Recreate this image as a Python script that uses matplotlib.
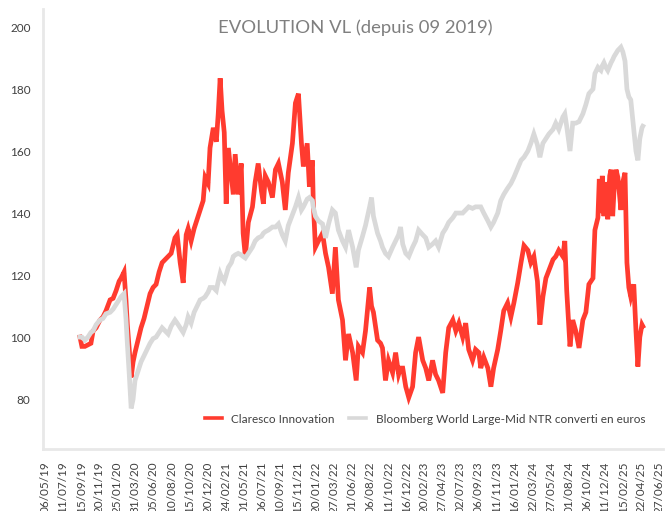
import matplotlib
matplotlib.use("Agg")
import matplotlib.pyplot as plt
import pandas as pd

plt.rcParams['font.family'] = ['Lato', 'DejaVu Sans']

title = "EVOLUTION VL (depuis 09 2019)"
series_names = ["Claresco Innovation", "Bloomberg World Large-Mid NTR converti en euros"]

dates = [
    "2019-09-11", "2019-09-18", "2019-09-29", "2019-10-10", "2019-10-21", "2019-10-29",
    "2019-11-09", "2019-11-23", "2019-12-04", "2019-12-15", "2019-12-30", "2020-01-10",
    "2020-01-21", "2020-02-01", "2020-02-08", "2020-02-19", "2020-02-26", "2020-03-02",
    "2020-03-09", "2020-03-16", "2020-03-23", "2020-03-30", "2020-04-10", "2020-04-21",
    "2020-05-02", "2020-05-13", "2020-05-24", "2020-06-04", "2020-06-15", "2020-06-26",
    "2020-07-07", "2020-07-18", "2020-07-29", "2020-08-09", "2020-08-23", "2020-08-31",
    "2020-09-11", "2020-09-22", "2020-10-03", "2020-10-10", "2020-10-21", "2020-11-01",
    "2020-11-12", "2020-11-23", "2020-12-04", "2020-12-11", "2020-12-22", "2020-12-29",
    "2021-01-10", "2021-01-21", "2021-01-28", "2021-02-04", "2021-02-11", "2021-02-19",
    "2021-02-26", "2021-03-06", "2021-03-17", "2021-03-24", "2021-03-31", "2021-04-11",
    "2021-04-22", "2021-04-29", "2021-05-07", "2021-05-18", "2021-06-02", "2021-06-12",
    "2021-06-23", "2021-07-05", "2021-07-12", "2021-07-19", "2021-07-30", "2021-08-14",
    "2021-08-25", "2021-09-05", "2021-09-19", "2021-09-30", "2021-10-11", "2021-10-26",
    "2021-11-06", "2021-11-17", "2021-11-28", "2021-12-05", "2021-12-19", "2021-12-27",
    "2022-01-07", "2022-01-10", "2022-01-18", "2022-01-29", "2022-02-13", "2022-02-24",
    "2022-03-07", "2022-03-21", "2022-04-01", "2022-04-12", "2022-04-27", "2022-05-08",
    "2022-05-19", "2022-06-03", "2022-06-16", "2022-06-24", "2022-07-09", "2022-07-20",
    "2022-08-04", "2022-08-11", "2022-08-18", "2022-09-02", "2022-09-13", "2022-09-20",
    "2022-10-01", "2022-10-12", "2022-10-27", "2022-11-07", "2022-11-18", "2022-11-25",
    "2022-12-03", "2022-12-14", "2022-12-25", "2023-01-08", "2023-01-19", "2023-01-30",
    "2023-02-14", "2023-02-25", "2023-03-08", "2023-03-22", "2023-04-02", "2023-04-13",
    "2023-04-28", "2023-05-09", "2023-05-20", "2023-06-04", "2023-06-15", "2023-06-26",
    "2023-07-10", "2023-07-21", "2023-08-01", "2023-08-15", "2023-08-26", "2023-09-07",
    "2023-09-14", "2023-09-25", "2023-10-10", "2023-10-21", "2023-10-31", "2023-11-15",
    "2023-11-26", "2023-12-07", "2023-12-21", "2024-01-02", "2024-01-13", "2024-01-27",
    "2024-02-08", "2024-02-19", "2024-03-04", "2024-03-15", "2024-03-26", "2024-04-08",
    "2024-04-17", "2024-04-28", "2024-05-09", "2024-05-20", "2024-06-04", "2024-06-14",
    "2024-06-25", "2024-07-10", "2024-07-17", "2024-07-24", "2024-08-05", "2024-08-15",
    "2024-08-26", "2024-09-07", "2024-09-21", "2024-10-02", "2024-10-13", "2024-10-28",
    "2024-11-04", "2024-11-15", "2024-11-20", "2024-11-26", "2024-12-01", "2024-12-07",
    "2024-12-14", "2024-12-21", "2024-12-28", "2025-01-02", "2025-01-08", "2025-01-13",
    "2025-01-20", "2025-01-27", "2025-02-07", "2025-02-14", "2025-02-22", "2025-03-01",
    "2025-03-08", "2025-03-15", "2025-03-26", "2025-04-03", "2025-04-10", "2025-04-17",
    "2025-04-25", "2025-04-28",
]

claresco = [
    100, 97, 97, 97.5, 98, 102,
    103, 105.5, 106.5, 108.5, 112, 112.5,
    115, 118, 119, 121, 112, 104,
    96, 87, 92, 95, 99, 103,
    106, 110, 114, 116, 117, 121,
    124, 125, 126, 127, 132, 133,
    124, 117.5, 133, 135, 131, 135,
    138, 141, 144, 151.5, 149.5, 161,
    167.5, 163, 172, 183.5, 173, 166,
    143, 161, 152, 146, 159, 146,
    156, 133.5, 126, 137, 142, 150,
    156, 147, 143, 152, 150, 145,
    154, 156, 150, 141, 153, 162.5,
    175.5, 178.5, 162.5, 155, 162.5, 148.5,
    157, 144, 129, 131, 133.5, 127,
    122.5, 114, 129, 112, 105.5, 92.5,
    101, 95, 86, 97, 95, 102,
    116, 110, 108, 99, 98, 96.5,
    86, 92.5, 88.5, 95, 88, 90,
    90, 84, 80.5, 84, 95, 100,
    92.5, 90, 86, 92.5, 88, 86,
    82, 95, 103, 105.5, 102, 104.5,
    100, 104.5, 96, 92.5, 96, 95,
    90, 93.5, 90, 84, 90, 96,
    102, 108.5, 111, 106.5, 111, 117.5,
    124, 129.5, 128, 124, 126, 118,
    104, 113, 119, 121.5, 125, 126,
    128, 126, 131, 115, 97, 105.5,
    102, 96.5, 105.5, 108, 117, 119,
    134.5, 138.5, 151, 140, 152, 139,
    150, 138, 152, 154, 139, 147.5,
    154, 151.5, 141, 150, 153, 124,
    116, 113, 117, 102, 90.5, 100,
    104, 103.5,
]

bloomberg = [
    100, 100, 99, 100, 101.5, 102,
    104, 105.5, 106, 107.5, 108, 109,
    110.5, 112, 113, 114, 106, 98,
    88, 77, 80, 86, 89, 92,
    94, 96, 98, 99.5, 100, 101.5,
    103, 102, 101, 103.5, 105.5, 104.5,
    103, 101.5, 104, 106.5, 104.5, 108,
    110, 112, 112.5, 113, 114.5, 116,
    116, 115, 118, 120.5, 119, 118,
    120, 122.5, 124, 126, 126.5, 127,
    126.5, 126, 125.5, 127, 129, 131,
    132, 132.5, 133.5, 134, 134.5, 135.5,
    135.5, 136.5, 133, 131, 136, 139.5,
    142, 145, 141, 142, 144.5, 145,
    144, 142, 139, 137.5, 136.5, 132,
    136.5, 141, 140, 134.5, 131, 129,
    134.5, 129, 122.5, 128, 132.5, 136,
    142, 145, 139, 133.5, 131, 129,
    127, 126, 129, 131, 133, 135.5,
    130, 127, 126, 129, 131, 134.5,
    133, 132, 129, 130, 131, 129,
    133.5, 135, 137, 138.5, 140, 140,
    140, 141, 142, 141.5, 142, 142,
    142, 140, 137.5, 135.5, 137, 140,
    144, 146, 148, 149.5, 151.5, 154.5,
    157, 158, 160, 162.5, 165.5, 162,
    158, 162.5, 164, 165.5, 167, 169,
    167, 171, 172, 168, 160, 169,
    169, 169.5, 172, 175, 178.5, 180,
    185, 187, 186.5, 186, 187.5, 188.5,
    187, 186, 187.5, 188.5, 189.5, 190.5,
    191.5, 192.5, 193.5, 192, 189, 180,
    177.5, 176.5, 167, 160, 157, 164,
    167.5, 168,
]

tick_labels = [
    "06/05/19", "11/07/19", "15/09/19", "20/11/19", "25/01/20", "31/03/20", "05/06/20",
    "10/08/20", "15/10/20", "20/12/20", "24/02/21", "01/05/21", "06/07/21", "10/09/21",
    "15/11/21", "20/01/22", "27/03/22", "01/06/22", "06/08/22", "11/10/22", "16/12/22",
    "20/02/23", "27/04/23", "02/07/23", "06/09/23", "11/11/23", "16/01/24", "22/03/24",
    "27/05/24", "01/08/24", "06/10/24", "11/12/24", "15/02/25", "22/04/25", "27/06/25",
]
y_ticks = [80, 100, 120, 140, 160, 180, 200]

x = pd.to_datetime(dates)
tick_pos = pd.to_datetime(tick_labels, format="%d/%m/%y")

fig = plt.figure(figsize=(6.66, 5.11), dpi=100)
ax = fig.add_axes([0.0646, 0.1213, 0.931, 0.861])

ax.plot(x, claresco, color="#FF3B2F", lw=3.4, solid_joinstyle="miter", label=series_names[0])
ax.plot(x, bloomberg, color="#D9D9D9", lw=3.4, solid_joinstyle="miter", label=series_names[1])

ax.set_xlim(pd.Timestamp("2019-04-29"), pd.Timestamp("2025-07-11"))
ax.set_ylim(63.9, 205.8)

ax.set_xticks(tick_pos)
ax.set_xticklabels(tick_labels, rotation=90, fontsize=8.5, color="#404040")
ax.set_yticks(y_ticks)
ax.set_yticklabels([str(v) for v in y_ticks], fontsize=8.5, color="#404040")
ax.tick_params(axis="both", length=0)
ax.tick_params(axis="x", pad=9)
ax.tick_params(axis="y", pad=9)

for s in ["top", "right"]:
    ax.spines[s].set_visible(False)
for s in ["left", "bottom"]:
    ax.spines[s].set_color("#E8E8E8")
    ax.spines[s].set_linewidth(2)

fig.text(0.533, 0.945, title, ha="center", va="center", fontsize=13.3, color="#7F7F7F")

leg = ax.legend(loc="center", bbox_to_anchor=(0.616, 0.068), ncol=2, frameon=False,
                fontsize=8.5, handlelength=1.45, columnspacing=1.2, handletextpad=0.8,
                labelcolor="#404040")
for h in leg.get_lines():
    h.set_linewidth(2.6)

fig.savefig("out.png", dpi=100)
